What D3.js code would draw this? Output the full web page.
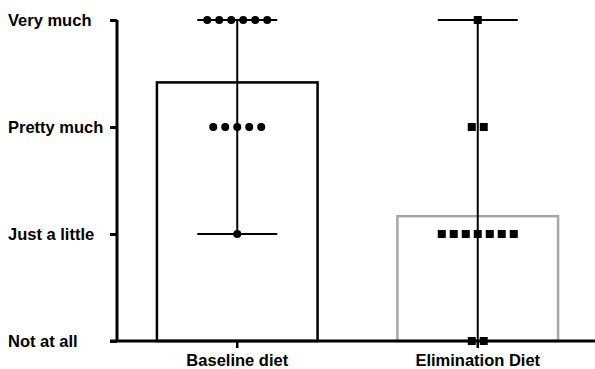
<!DOCTYPE html>
<html>
<head>
<meta charset="utf-8">
<script src="https://cdn.jsdelivr.net/npm/d3@7"></script>
<style>
  body { margin: 0; background: #fff; }
  text { font-family: Arial, "Liberation Sans", sans-serif; font-weight: bold; font-size: 16.5px; fill: #000; }
</style>
</head>
<body>
<div id="chart"></div>
<script>
var width = 595
var height = 369

// data
var groups = ['Baseline diet', 'Elimination Diet']
var levels = ['Not at all', 'Just a little', 'Pretty much', 'Very much']
// number of answers at each level (0..3), per group
var baselineCounts = [0, 1, 5, 6]
var eliminationCounts = [2, 7, 2, 1]
var barColors = ['#000000', '#a6a6a6']
var pointShapes = ['circle', 'square']

var svg = d3.select('#chart').append('svg')
  .attr('width', width)
  .attr('height', height)

var x = d3.scaleBand()
  .domain(groups)
  .range([117, 598])
  .paddingInner(0.332)
  .paddingOuter(0.166)

var y = d3.scaleLinear()
  .domain([0, 3])
  .range([341, 20])

function summary(counts) {
  var n = 0, sum = 0, min = null, max = null
  counts.forEach(function(c, lvl) {
    n += c
    sum += c * lvl
    if (c > 0) {
      if (min === null) min = lvl
      max = lvl
    }
  })
  return {mean: sum / n, min: min, max: max}
}

var allCounts = [baselineCounts, eliminationCounts]
var stats = groups.map(function(g, i) {
  var s = summary(allCounts[i])
  s.group = g
  s.color = barColors[i]
  s.shape = pointShapes[i]
  s.counts = allCounts[i]
  return s
})

// bars
svg.selectAll('.bar').data(stats).enter().append('rect')
  .classed('bar', true)
  .attr('x', function(d) { return x(d.group) })
  .attr('y', function(d) { return y(d.mean) })
  .attr('width', x.bandwidth())
  .attr('height', function(d) { return y(0) - y(d.mean) })
  .attr('fill', 'none')
  .attr('stroke', function(d) { return d.color })
  .attr('stroke-width', 2.5)

// error bars (range)
var capW = 80
var eb = svg.selectAll('.err').data(stats).enter().append('g').classed('err', true)
eb.append('line')
  .attr('x1', function(d) { return x(d.group) + x.bandwidth() / 2 })
  .attr('x2', function(d) { return x(d.group) + x.bandwidth() / 2 })
  .attr('y1', function(d) { return y(d.min) })
  .attr('y2', function(d) { return y(d.max) })
  .attr('stroke', '#000').attr('stroke-width', 2)
eb.append('line')
  .attr('x1', function(d) { return x(d.group) + x.bandwidth() / 2 - capW / 2 })
  .attr('x2', function(d) { return x(d.group) + x.bandwidth() / 2 + capW / 2 })
  .attr('y1', function(d) { return y(d.max) })
  .attr('y2', function(d) { return y(d.max) })
  .attr('stroke', '#000').attr('stroke-width', 2)
eb.filter(function(d) { return d.min > 0 }).append('line')
  .attr('x1', function(d) { return x(d.group) + x.bandwidth() / 2 - capW / 2 })
  .attr('x2', function(d) { return x(d.group) + x.bandwidth() / 2 + capW / 2 })
  .attr('y1', function(d) { return y(d.min) })
  .attr('y2', function(d) { return y(d.min) })
  .attr('stroke', '#000').attr('stroke-width', 2)

// individual points
var spacing = 12
var points = []
stats.forEach(function(s) {
  s.counts.forEach(function(c, lvl) {
    for (var k = 0; k < c; k++) {
      points.push({
        group: s.group, shape: s.shape, level: lvl,
        offset: (k - (c - 1) / 2) * spacing
      })
    }
  })
})

function cx(p) { return x(p.group) + x.bandwidth() / 2 + p.offset }

svg.selectAll('.dot').data(points.filter(function(p) { return p.shape == 'circle' }))
  .enter().append('circle')
  .classed('dot', true)
  .attr('cx', cx)
  .attr('cy', function(p) { return y(p.level) })
  .attr('r', 4)
  .attr('fill', '#000')

svg.selectAll('.sq').data(points.filter(function(p) { return p.shape == 'square' }))
  .enter().append('rect')
  .classed('sq', true)
  .attr('x', function(p) { return cx(p) - 4 })
  .attr('y', function(p) { return y(p.level) - 4 })
  .attr('width', 8)
  .attr('height', 8)
  .attr('fill', '#000')

// y axis, labels left aligned at the page edge
var yAxis = svg.append('g')
  .attr('transform', 'translate(117,0)')
  .call(d3.axisLeft(y).tickValues([0, 1, 2, 3])
    .tickFormat(function(v) { return levels[v] })
    .tickSize(7))
yAxis.select('.domain').attr('d', 'M0,' + y(3) + 'V' + y(0)).attr('stroke-width', 3)
yAxis.selectAll('.tick line').attr('stroke-width', 3)
yAxis.selectAll('.tick text')
  .attr('x', -109)
  .attr('text-anchor', 'start')
  .attr('font-size', null).attr('font-family', null)
yAxis.attr('text-anchor', null)

// x axis
var xAxis = svg.append('g')
  .attr('transform', 'translate(0,' + y(0) + ')')
  .call(d3.axisBottom(x).tickSize(7).tickPadding(6))
xAxis.select('.domain').attr('d', 'M110,0H595').attr('stroke-width', 3)
xAxis.selectAll('.tick line').attr('stroke-width', 2.5)
xAxis.selectAll('.tick text').attr('font-size', null).attr('font-family', null)
</script>
</body>
</html>
